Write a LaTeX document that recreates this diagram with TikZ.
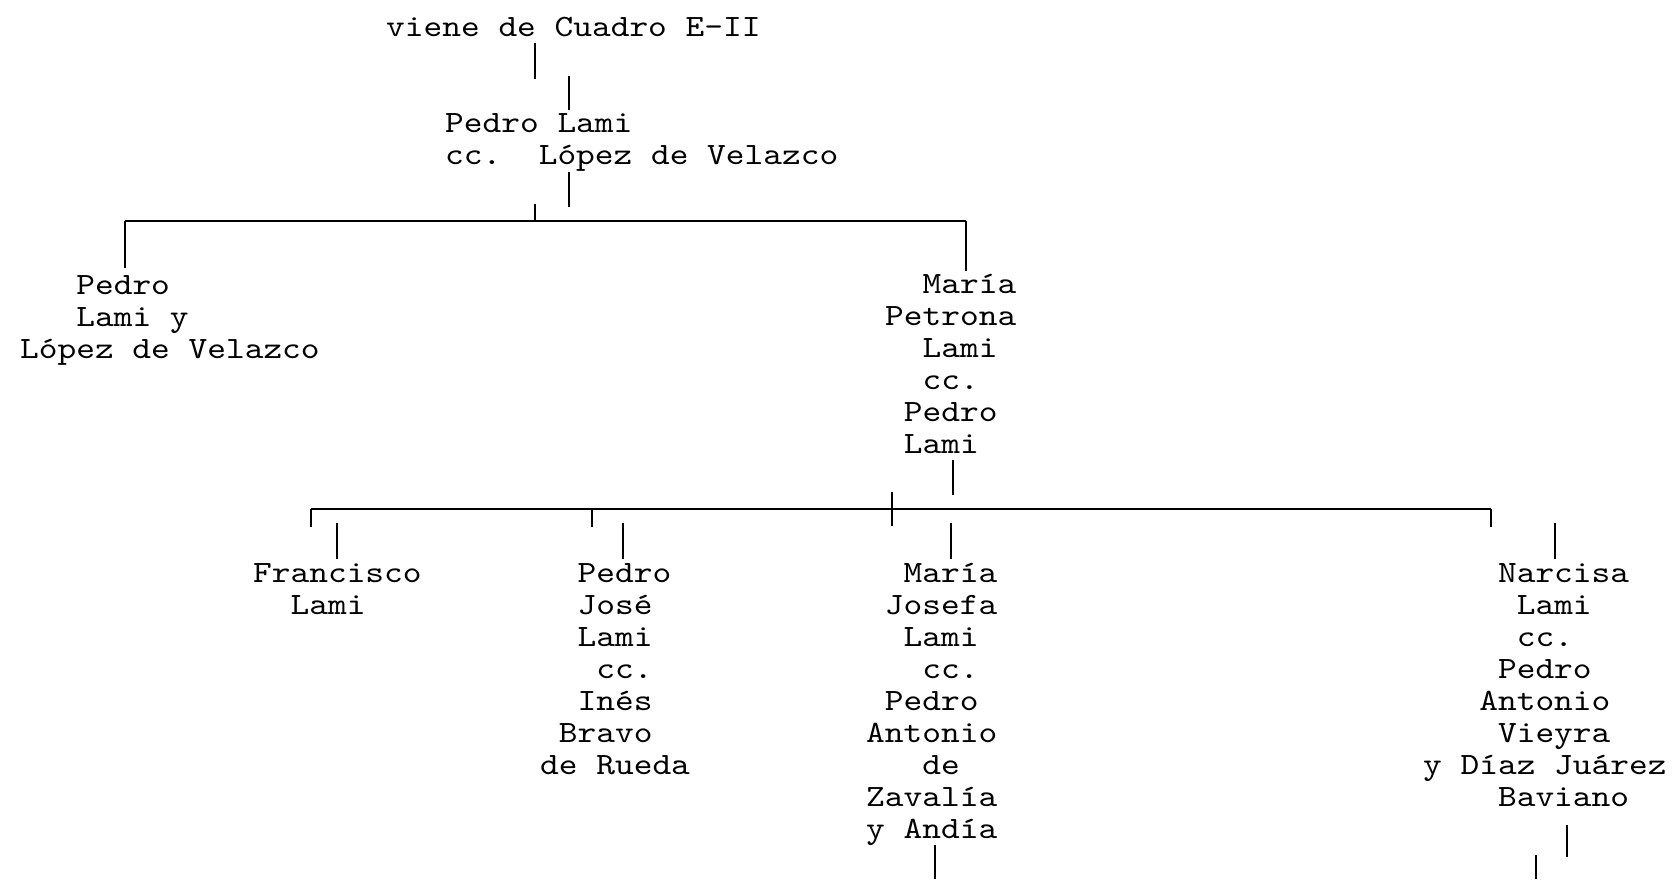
\documentclass[tikz,border=0pt]{standalone}
\usepackage{fontspec}
\setmonofont{lmmono10-regular}[Extension=.otf, FakeStretch=1.15]

\newlength{\cw}
\setlength{\cw}{18.72pt}
\newcommand{\pad}[1]{\hspace*{#1\cw}}

\tikzset{
  person/.style={anchor=base west, inner sep=0pt, align=left,
    font=\ttfamily\frenchspacing\fontsize{31pt}{32pt}\selectfont},
  rule/.style={line width=2.4pt, black},
}

\begin{document}
\begin{tikzpicture}[x=1pt, y=1pt]
	\useasboundingbox (0,0) rectangle (1678,879);

	% generation 1 (nodes sit on the baseline of their last line)
	\node[person] (from)   at (386,842) {viene de Cuadro E-II};
	\node[person] (couple) at (445,714) {Pedro Lami\\cc.\ \ López de Velazco};

	% generation 2
	\node[person] (pedro)   at (20,520)  {\pad{3}Pedro\\\pad{3}Lami y\\López de Velazco};
	\node[person] (petrona) at (885,425) {\pad{2}María\\Petrona\\\pad{2}Lami\\\pad{2}cc.\\\pad{1}Pedro\\\pad{1}Lami};

	% generation 3
	\node[person] (francisco) at (253,265)  {Francisco\\\pad{2}Lami};
	\node[person] (pjose)     at (540,105)  {\pad{2}Pedro\\\pad{2}José\\\pad{2}Lami\\\pad{3}cc.\\\pad{2}Inés\\\pad{1}Bravo\\de Rueda};
	\node[person] (mjosefa)   at (866,41)   {\pad{2}María\\\pad{1}Josefa\\\pad{2}Lami\\\pad{3}cc.\\\pad{1}Pedro\\Antonio\\\pad{3}de\\Zavalía\\y Andía};
	\node[person] (narcisa)   at (1423,73)  {\pad{4}Narcisa\\\pad{5}Lami\\\pad{5}cc.\\\pad{4}Pedro\\\pad{3}Antonio\\\pad{4}Vieyra\\y Díaz Juárez\\\pad{4}Baviano};

	% bus bars
	\coordinate (busA-w) at (125,658);
	\coordinate (busA-m) at (535,658);
	\coordinate (busA-e) at (966,658);
	\coordinate (busB-w) at (311,370);
	\coordinate (busB-p) at (592,370);
	\coordinate (busB-m) at (892,370);
	\coordinate (busB-e) at (1491,370);

	\draw[rule] (busA-w) -- (busA-e);
	\draw[rule] (busB-w) -- (busB-e);

	% stubs, top
	\draw[rule] (535,836) -- (535,800);
	\draw[rule] (569,803) -- (569,769);
	\draw[rule] (569,707) -- (569,672);
	\draw[rule] (busA-m) -- ++(0,17);
	\draw[rule] (busA-w) -- ++(0,-47);
	\draw[rule] (busA-e) -- ++(0,-50);

	% stubs, middle
	\draw[rule] (953,419) -- (953,384);
	\draw[rule] (busB-m) ++(0,17) -- ++(0,-34);
	\draw[rule] (busB-w) -- ++(0,-18);
	\draw[rule] (busB-p) -- ++(0,-18);
	\draw[rule] (busB-e) -- ++(0,-18);
	\draw[rule] (337,356) -- (337,320);
	\draw[rule] (623,356) -- (623,320);
	\draw[rule] (951,356) -- (951,320);
	\draw[rule] (1555,356) -- (1555,320);

	% stubs, bottom
	\draw[rule] (935,34) -- (935,0);
	\draw[rule] (1567,54) -- (1567,22);
	\draw[rule] (1536,24) -- (1536,0);
\end{tikzpicture}
\end{document}
